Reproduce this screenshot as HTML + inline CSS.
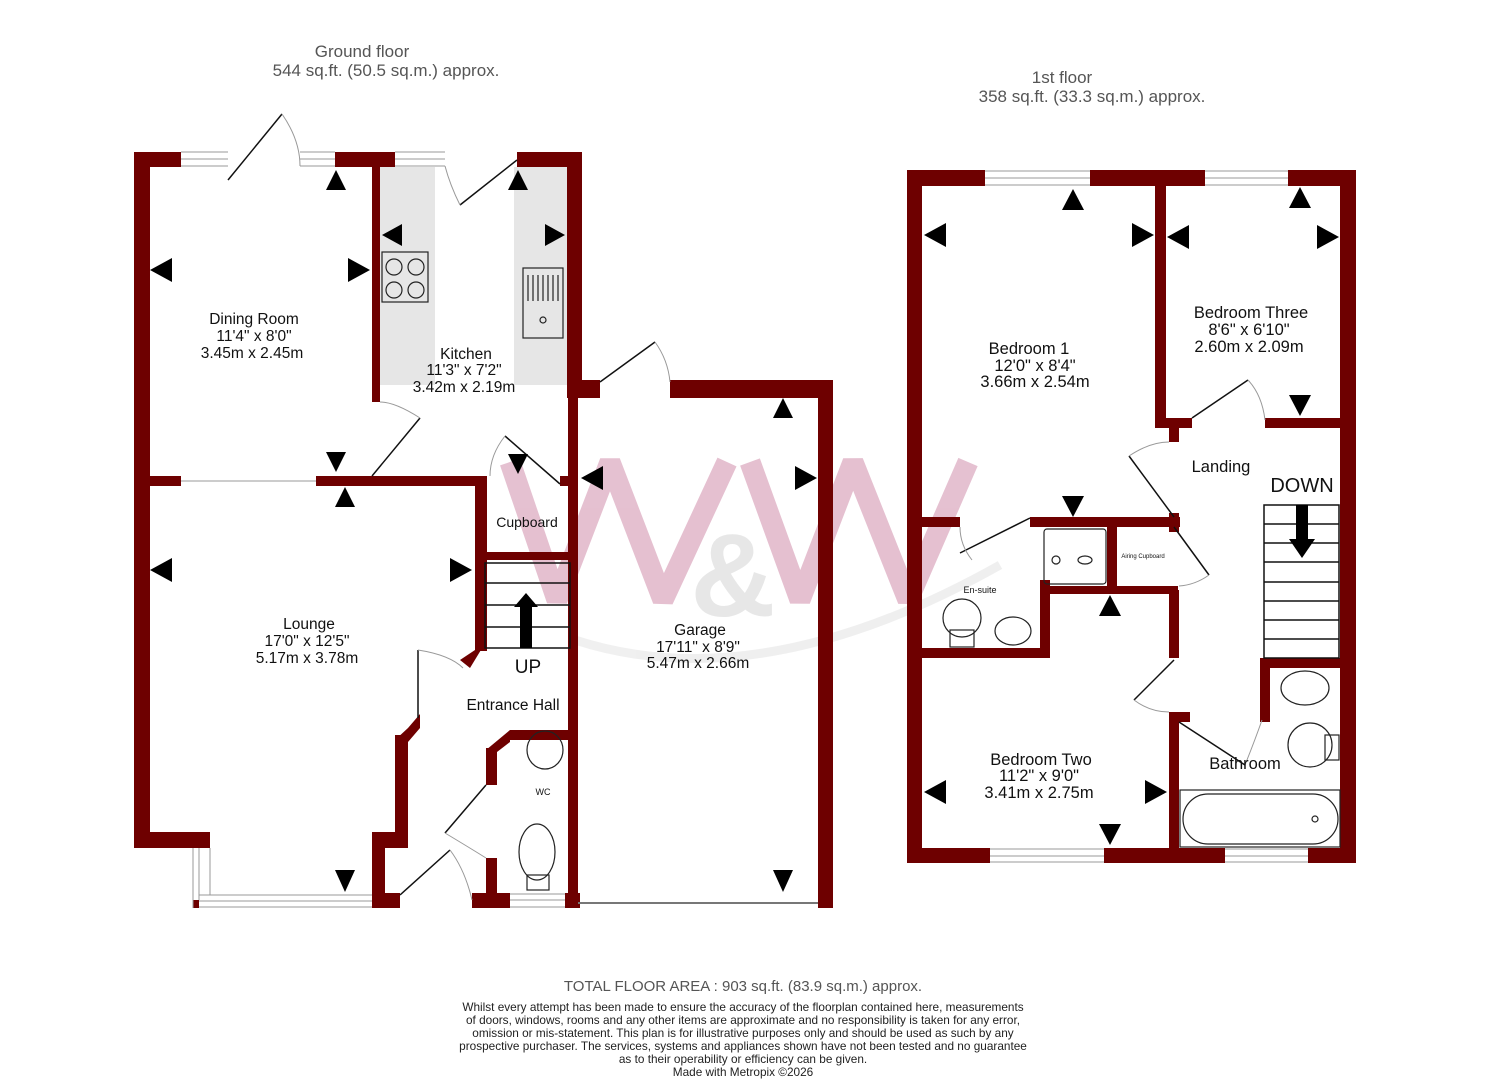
<!DOCTYPE html>
<html><head><meta charset="utf-8"><style>
body{margin:0;background:#fff}
svg{display:block}
text{font-family:"Liberation Sans",sans-serif;fill:#111}
</style></head><body>
<svg width="1489" height="1080" viewBox="0 0 1489 1080" xmlns="http://www.w3.org/2000/svg">
<!-- watermark -->
<g opacity="0.8">
<path d="M575,640 Q760,700 1000,565" stroke="#ececec" stroke-width="9" fill="none"/>
<polyline points="510,462 557,600 610,462 663,600 727,462" fill="none" stroke="#dfb1c5" stroke-width="21" stroke-linejoin="bevel"/>
<polyline points="750,462 800,600 853,462 908,600 968,462" fill="none" stroke="#dfb1c5" stroke-width="21" stroke-linejoin="bevel"/>
<text x="733" y="616" font-size="118" font-weight="bold" text-anchor="middle" style="fill:#e2e2e2">&amp;</text>
</g>

<!-- kitchen counters -->
<rect x="380" y="167" width="55" height="218" fill="#e6e6e6"/>
<rect x="514" y="167" width="54" height="218" fill="#e6e6e6"/>

<g fill="#6e0000">
<rect x="134" y="152" width="16" height="696"/>
<rect x="134" y="152" width="47" height="15"/>
<rect x="335" y="152" width="60" height="15"/>
<rect x="517" y="152" width="65" height="15"/>
<rect x="372" y="152" width="8" height="250"/>
<rect x="567" y="152" width="15" height="246"/>
<rect x="567" y="380" width="33" height="18"/>
<rect x="670" y="380" width="163" height="18"/>
<rect x="818" y="380" width="15" height="528"/>
<rect x="568" y="398" width="10" height="510"/>
<rect x="134" y="476" width="47" height="10"/>
<rect x="316" y="476" width="171" height="10"/>
<rect x="475" y="476" width="12" height="175"/>
<rect x="560" y="476" width="10" height="10"/>
<rect x="487" y="552" width="83" height="8"/>
<polygon points="475,650 487,640 470,668 460,660"/>
<rect x="134" y="832" width="76" height="16"/>
<rect x="395" y="735" width="13" height="103"/>
<polygon points="395,740 408,728 420,714 420,728 408,742"/>
<rect x="372" y="832" width="36" height="16"/>
<rect x="372" y="832" width="13" height="76"/>
<rect x="372" y="893" width="28" height="15"/>
<rect x="510" y="730" width="60" height="10"/>
<polygon points="486,750 510,730 510,742 497,752"/>
<rect x="486" y="748" width="11" height="37"/>
<rect x="486" y="858" width="11" height="40"/>
<rect x="472" y="893" width="38" height="15"/>
<rect x="565" y="893" width="15" height="15"/>
<rect x="193" y="900" width="6" height="8"/>

<rect x="907" y="170" width="15" height="693"/>
<rect x="907" y="170" width="78" height="16"/>
<rect x="1090" y="170" width="115" height="16"/>
<rect x="1288" y="170" width="68" height="16"/>
<rect x="1340" y="170" width="16" height="693"/>
<rect x="907" y="848" width="83" height="15"/>
<rect x="1104" y="848" width="121" height="15"/>
<rect x="1308" y="848" width="48" height="15"/>
<rect x="1155" y="178" width="11" height="250"/>
<rect x="1155" y="418" width="37" height="10"/>
<rect x="1265" y="418" width="80" height="10"/>
<rect x="1169" y="425" width="10" height="17"/>
<rect x="922" y="517" width="38" height="10"/>
<rect x="1030" y="517" width="150" height="10"/>
<rect x="1169" y="513" width="10" height="19"/>
<rect x="1040" y="580" width="10" height="78"/>
<rect x="922" y="648" width="128" height="10"/>
<rect x="1107" y="527" width="10" height="63"/>
<rect x="1050" y="586" width="128" height="8"/>
<rect x="1169" y="590" width="10" height="68"/>
<rect x="1169" y="712" width="10" height="151"/>
<rect x="1169" y="712" width="21" height="10"/>
<rect x="1260" y="658" width="85" height="10"/>
<rect x="1260" y="660" width="10" height="62"/>
</g>

<g fill="none" stroke="#999" stroke-width="1">
<path d="M181,152h47M181,159h47M181,166h47"/>
<path d="M300,152h35M300,159h35M300,166h35"/>
<path d="M395,152h50M395,159h50M395,166h50"/>
<path d="M181,481h135" />
<path d="M193,848v60M199,848v52M210,848v47"/>
<path d="M199,895h173M199,901h173M199,907h173"/>
<path d="M510,894h55M510,900h55M510,907h55"/>
<path d="M985,171h105M985,178h105M985,185h105"/>
<path d="M1205,171h83M1205,178h83M1205,185h83"/>
<path d="M990,849h114M990,856h114M990,862h114"/>
<path d="M1225,849h83M1225,856h83M1225,862h83"/>
</g>
<path d="M578,903h240" stroke="#777" stroke-width="2"/>

<g fill="none" stroke="#111" stroke-width="1.5">
<path d="M228,180L282,114"/>
<path d="M460,205L517,160"/>
<path d="M600,382L655,342"/>
<path d="M372,476L420,418"/>
<path d="M505,436L560,484"/>
<path d="M418,650V718"/>
<path d="M445,833L486,785"/>
<path d="M400,895L450,850"/>
<path d="M960,553L1030,518"/>
<path d="M1192,418L1248,380"/>
<path d="M1129,456L1174,517"/>
<path d="M1174,527L1209,575"/>
<path d="M1134,700L1174,660"/>
<path d="M1179,722L1245,765"/>
</g>
<g fill="none" stroke="#999" stroke-width="1">
<path d="M282,114Q300,140 300,166"/>
<path d="M460,205Q450,185 445,166"/>
<path d="M655,342Q668,360 670,382"/>
<path d="M420,418Q395,402 380,402"/>
<path d="M505,436Q490,455 490,476"/>
<path d="M418,650Q450,655 463,668"/>
<path d="M445,833Q470,848 486,858"/>
<path d="M450,850Q465,870 472,900"/>
<path d="M960,527Q960,545 972,560"/>
<path d="M1248,380Q1262,395 1265,420"/>
<path d="M1129,456Q1150,442 1169,442"/>
<path d="M1209,575Q1195,585 1179,586"/>
<path d="M1134,700Q1150,712 1169,712"/>
<path d="M1245,765Q1255,740 1262,720"/>
</g>

<g fill="none" stroke="#111" stroke-width="1.5">
<rect x="485" y="563" width="85" height="85"/>
<path d="M485,583h85M485,605h85M485,627h85"/>
<rect x="1264" y="505" width="75" height="153"/>
<path d="M1264,524h75M1264,543h75M1264,562h75M1264,582h75M1264,601h75M1264,620h75M1264,639h75"/>
</g>
<polygon points="520,648 520,607 514,607 526,593 538,607 532,607 532,648" fill="#000"/>
<polygon points="1296,505 1296,539 1289,539 1302,558 1315,539 1308,539 1308,505" fill="#000"/>

<g fill="none" stroke="#222" stroke-width="1.2">
<rect x="382" y="252" width="46" height="50"/>
<circle cx="394" cy="267" r="8"/><circle cx="416" cy="267" r="8"/>
<circle cx="394" cy="290" r="8"/><circle cx="416" cy="290" r="8"/>
<rect x="523" y="268" width="40" height="70"/>
<path d="M528,275v26M533,275v26M538,275v26M543,275v26M548,275v26M553,275v26M558,275v26"/>
<circle cx="543" cy="320" r="3"/>
<ellipse cx="545" cy="750" rx="18" ry="19"/>
<ellipse cx="537" cy="852" rx="18" ry="28"/>
<rect x="527" y="875" width="22" height="15"/>
<rect x="1044" y="529" width="62" height="55" rx="3"/>
<circle cx="1056" cy="560" r="4"/><ellipse cx="1085" cy="560" rx="7" ry="4"/>
<circle cx="962" cy="618" r="19"/><rect x="950" y="630" width="24" height="17"/>
<ellipse cx="1013" cy="631" rx="18" ry="14"/>
<ellipse cx="1305" cy="688" rx="24" ry="17"/>
<circle cx="1310" cy="745" r="22"/><rect x="1325" y="735" width="14" height="25"/>
<rect x="1180" y="790" width="160" height="57"/>
<rect x="1183" y="794" width="155" height="50" rx="25"/>
<circle cx="1315" cy="819" r="3"/>
</g>

<g fill="#000">
<path d="M336,170l-10,20h20z"/><path d="M518,170l-10,20h20z"/>
<path d="M382,235l20,-11v22z"/><path d="M565,235l-20,-11v22z"/>
<path d="M150,270l22,-12v24z"/><path d="M370,270l-22,-12v24z"/>
<path d="M336,472l-10,-20h20z"/><path d="M345,487l-10,20h20z"/>
<path d="M518,474l-10,-20h20z"/>
<path d="M581,478l22,-12v24z"/><path d="M817,478l-22,-12v24z"/>
<path d="M783,398l-10,20h20z"/>
<path d="M150,570l22,-12v24z"/><path d="M472,570l-22,-12v24z"/>
<path d="M345,892l-10,-22h20z"/><path d="M783,892l-10,-22h20z"/>
<path d="M1073,189l-11,21h22z"/><path d="M924,235l22,-12v24z"/>
<path d="M1154,235l-22,-12v24z"/><path d="M1167,237l22,-12v24z"/>
<path d="M1339,237l-22,-12v24z"/><path d="M1300,187l-11,21h22z"/>
<path d="M1300,416l-11,-21h22z"/><path d="M1073,517l-11,-21h22z"/>
<path d="M1110,595l-11,21h22z"/><path d="M924,792l22,-12v24z"/>
<path d="M1167,792l-22,-12v24z"/><path d="M1110,845l-11,-21h22z"/>
</g>

<g font-size="17" text-anchor="middle">
<text x="362" y="57" style="fill:#555">Ground floor</text>
<text x="386" y="76" style="fill:#555">544 sq.ft. (50.5 sq.m.) approx.</text>
<text x="1062" y="83" style="fill:#555">1st floor</text>
<text x="1092" y="102" style="fill:#555">358 sq.ft. (33.3 sq.m.) approx.</text>
</g>
<g font-size="15.5" text-anchor="middle">
<text x="254" y="324">Dining Room</text><text x="254" y="341">11'4"  x 8'0"</text><text x="252" y="358">3.45m  x 2.45m</text>
<text x="466" y="359">Kitchen</text><text x="464" y="375">11'3"  x 7'2"</text><text x="464" y="392">3.42m  x 2.19m</text>
<text x="309" y="629">Lounge</text><text x="307" y="646">17'0"  x 12'5"</text><text x="307" y="663">5.17m  x 3.78m</text>
<text x="700" y="635">Garage</text><text x="698" y="652">17'11"  x 8'9"</text><text x="698" y="668">5.47m  x 2.66m</text>
<text x="513" y="710">Entrance Hall</text>
</g>
<g font-size="16.5" text-anchor="middle">
<text x="1029" y="354">Bedroom 1</text><text x="1035" y="371">12'0"  x 8'4"</text><text x="1035" y="387">3.66m  x 2.54m</text>
<text x="1251" y="318">Bedroom Three</text><text x="1249" y="335">8'6"  x 6'10"</text><text x="1249" y="352">2.60m  x 2.09m</text>
<text x="1221" y="472">Landing</text>
<text x="1041" y="765">Bedroom Two</text><text x="1039" y="781">11'2"  x 9'0"</text><text x="1039" y="798">3.41m  x 2.75m</text>
<text x="1245" y="769">Bathroom</text>
</g>
<text x="527" y="527" font-size="14" text-anchor="middle">Cupboard</text>
<text x="528" y="673" font-size="19" text-anchor="middle">UP</text>
<text x="1302" y="492" font-size="20" text-anchor="middle">DOWN</text>
<text x="543" y="795" font-size="9" text-anchor="middle">WC</text>
<text x="980" y="593" font-size="9" text-anchor="middle">En-suite</text>
<text x="1143" y="558" font-size="6" text-anchor="middle">Airing Cupboard</text>

<g text-anchor="middle">
<text x="743" y="991" font-size="15" style="fill:#555">TOTAL FLOOR AREA : 903 sq.ft. (83.9 sq.m.) approx.</text>
<g font-size="11.8" style="fill:#222">
<text x="743" y="1011" style="fill:#222">Whilst every attempt has been made to ensure the accuracy of the floorplan contained here, measurements</text>
<text x="743" y="1024" style="fill:#222">of doors, windows, rooms and any other items are approximate and no responsibility is taken for any error,</text>
<text x="743" y="1037" style="fill:#222">omission or mis-statement. This plan is for illustrative purposes only and should be used as such by any</text>
<text x="743" y="1050" style="fill:#222">prospective purchaser. The services, systems and appliances shown have not been tested and no guarantee</text>
<text x="743" y="1063" style="fill:#222">as to their operability or efficiency can be given.</text>
<text x="743" y="1076" style="fill:#222">Made with Metropix ©2026</text>
</g></g>
</svg>
</body></html>
